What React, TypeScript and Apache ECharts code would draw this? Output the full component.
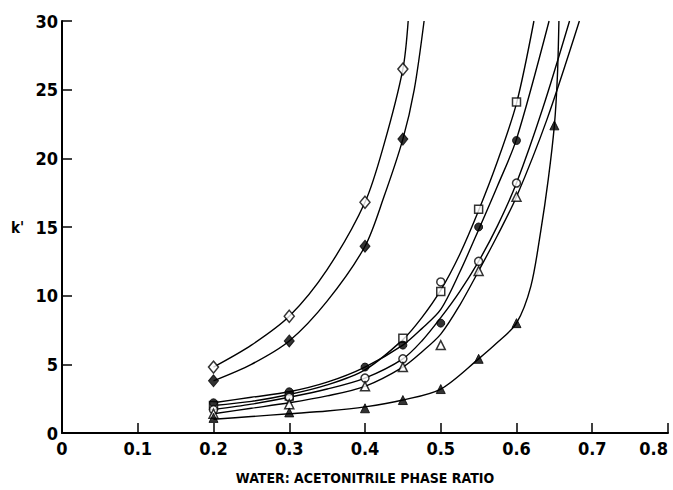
import { useEffect, useRef } from "react";
import * as echarts from "echarts";

// Axis setup
const xMin = 0;
const xMax = 0.8;
const xStep = 0.1;
const yMin = 0;
const yMax = 30;
const yStep = 5;
const xTitle = "WATER: ACETONITRILE PHASE RATIO";
const yTitle = "k'";

// Measured points (x = phase ratio, y = k')
const openDiamondPts = [[0.2, 4.8], [0.3, 8.5], [0.4, 16.8], [0.45, 26.5]];
const filledDiamondPts = [[0.2, 3.8], [0.3, 6.7], [0.4, 13.6], [0.45, 21.4]];
const openSquarePts = [[0.2, 2.0], [0.3, 2.7], [0.45, 6.9], [0.5, 10.3], [0.55, 16.3], [0.6, 24.1]];
const filledCirclePts = [[0.2, 2.2], [0.3, 3.0], [0.4, 4.8], [0.45, 6.4], [0.5, 8.0], [0.55, 15.0], [0.6, 21.3]];
const openCirclePts = [[0.2, 1.7], [0.3, 2.6], [0.4, 4.0], [0.45, 5.4], [0.5, 11.0], [0.55, 12.5], [0.6, 18.2]];
const openTrianglePts = [[0.2, 1.4], [0.3, 2.1], [0.4, 3.4], [0.45, 4.8], [0.5, 6.4], [0.55, 11.8], [0.6, 17.2]];
const filledTrianglePts = [[0.2, 1.1], [0.3, 1.5], [0.4, 1.8], [0.45, 2.4], [0.5, 3.2], [0.55, 5.4], [0.6, 8.0], [0.65, 22.4]];

// Fitted curves as drawn in the figure
const openDiamondCurve = [[0.2, 4.8], [0.25, 6.4], [0.3, 8.5], [0.35, 11.9], [0.4, 16.8], [0.425, 21.0], [0.45, 26.5], [0.457, 30]];
const filledDiamondCurve = [[0.2, 3.8], [0.25, 5.0], [0.3, 6.7], [0.35, 9.6], [0.4, 13.6], [0.425, 17.2], [0.45, 21.4], [0.465, 25.0], [0.478, 30]];
const openSquareCurve = [[0.2, 2.0], [0.25, 2.3], [0.3, 2.8], [0.35, 3.5], [0.4, 4.6], [0.45, 6.8], [0.475, 8.4], [0.5, 10.4], [0.525, 13.0], [0.55, 16.2], [0.575, 19.8], [0.6, 24.0], [0.623, 30]];
const filledCircleCurve = [[0.2, 2.2], [0.25, 2.6], [0.3, 3.0], [0.35, 3.7], [0.4, 4.8], [0.45, 6.4], [0.475, 7.6], [0.5, 9.0], [0.525, 11.7], [0.55, 14.8], [0.575, 18.0], [0.6, 21.4], [0.643, 30]];
const openCircleCurve = [[0.2, 1.7], [0.25, 2.1], [0.3, 2.6], [0.35, 3.2], [0.4, 4.0], [0.45, 5.4], [0.475, 6.7], [0.5, 8.4], [0.525, 10.3], [0.55, 12.5], [0.575, 15.1], [0.6, 18.2], [0.635, 23.7], [0.67, 30]];
const openTriangleCurve = [[0.2, 1.4], [0.25, 1.8], [0.3, 2.2], [0.35, 2.7], [0.4, 3.4], [0.45, 4.8], [0.475, 5.9], [0.5, 7.2], [0.525, 9.3], [0.55, 11.8], [0.575, 14.4], [0.6, 17.2], [0.64, 22.8], [0.683, 30]];
const filledTriangleCurve = [[0.2, 1.0], [0.25, 1.2], [0.3, 1.4], [0.35, 1.6], [0.4, 1.9], [0.45, 2.4], [0.5, 3.2], [0.55, 5.4], [0.575, 6.6], [0.6, 8.0], [0.619, 10.7], [0.632, 14.7], [0.642, 18.5], [0.65, 22.4], [0.654, 26.0], [0.656, 30]];

const FONT = "'DejaVu Sans Condensed', 'Liberation Sans Narrow', sans-serif";

type Spec = {
  name: string;
  pts: number[][];
  curve: number[][];
  symbol: string;
  size: number | number[];
  filled: boolean;
};

const specs: Spec[] = [
  { name: "open diamond", pts: openDiamondPts, curve: openDiamondCurve, symbol: "diamond", size: [10, 12], filled: false },
  { name: "filled diamond", pts: filledDiamondPts, curve: filledDiamondCurve, symbol: "diamond", size: [10, 12], filled: true },
  { name: "open square", pts: openSquarePts, curve: openSquareCurve, symbol: "rect", size: 8, filled: false },
  { name: "filled circle", pts: filledCirclePts, curve: filledCircleCurve, symbol: "circle", size: 8, filled: true },
  { name: "open circle", pts: openCirclePts, curve: openCircleCurve, symbol: "circle", size: 8, filled: false },
  { name: "open triangle", pts: openTrianglePts, curve: openTriangleCurve, symbol: "triangle", size: 9, filled: false },
  { name: "filled triangle", pts: filledTrianglePts, curve: filledTriangleCurve, symbol: "triangle", size: 9, filled: true },
];

export default function App() {
  const ref = useRef<HTMLDivElement>(null);
  useEffect(() => {
    document.body.style.margin = "0";
    if (!ref.current) return;
    const chart = echarts.init(ref.current, undefined, { renderer: "svg" });
    const series: any[] = [];
    specs.forEach((s) => {
      series.push({
        name: s.name + " curve",
        type: "line",
        data: s.curve,
        showSymbol: false,
        symbol: "none",
        smooth: 0.3,
        clip: true,
        lineStyle: { color: "#000", width: 1.4 },
        z: 2,
      });
    });
    specs.forEach((s) => {
      series.push({
        name: s.name,
        type: "scatter",
        data: s.pts,
        symbol: s.symbol,
        symbolSize: s.size,
        itemStyle: s.filled
          ? { color: "#000", borderColor: "#000", borderWidth: 1 }
          : { color: "#fff", borderColor: "#000", borderWidth: 1.5 },
        z: 5,
      });
    });
    chart.setOption({
      animation: false,
      backgroundColor: "#fff",
      grid: { left: 62, right: 5, top: 21, bottom: 51, containLabel: false },
      xAxis: {
        type: "value",
        min: xMin,
        max: xMax,
        interval: xStep,
        name: xTitle,
        nameLocation: "middle",
        nameGap: 38,
        nameTextStyle: { color: "#000", fontSize: 14, fontWeight: "bold", fontFamily: FONT },
        axisLine: { show: true, lineStyle: { color: "#000", width: 2 } },
        axisTick: { show: true, inside: true, length: 10, lineStyle: { color: "#000", width: 1.5 } },
        axisLabel: {
          color: "#000",
          fontSize: 18,
          fontWeight: "bold",
          fontFamily: FONT,
          margin: 6,
          alignMaxLabel: "right",
          formatter: (v: number) => (v === 0 ? "0" : v.toFixed(1)),
        },
        splitLine: { show: false },
      },
      yAxis: {
        type: "value",
        min: yMin,
        max: yMax,
        interval: yStep,
        axisLine: { show: true, lineStyle: { color: "#000", width: 2 } },
        axisTick: { show: true, inside: true, length: 10, lineStyle: { color: "#000", width: 1.5 } },
        axisLabel: { color: "#000", fontSize: 18, fontWeight: "bold", fontFamily: FONT, margin: 4 },
        splitLine: { show: false },
      },
      graphic: [
        {
          type: "text",
          left: 11,
          top: 220,
          style: { text: yTitle, fill: "#000", fontSize: 15, fontWeight: "bold", fontFamily: FONT },
        },
      ],
      series,
    });
    return () => chart.dispose();
  }, []);
  return <div ref={ref} style={{ width: 673, height: 490 }} />;
}
